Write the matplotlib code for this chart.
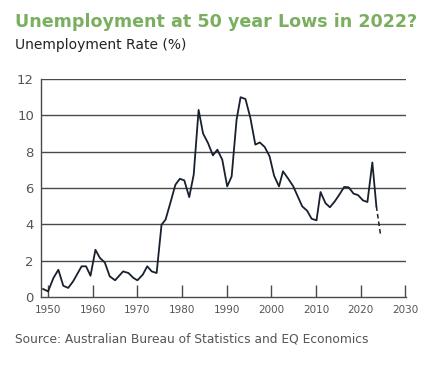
import matplotlib.pyplot as plt

# annual unemployment rate (%)
years = [1948.9, 1950.0, 1951.2, 1952.3, 1953.4, 1954.5, 1955.6, 1957.5, 1958.5, 1959.5,
         1960.6, 1961.6, 1962.7, 1963.8, 1965.0, 1966.8, 1968.0, 1969.1, 1970.0, 1971.2,
         1972.2, 1973.2, 1974.3, 1975.4, 1976.3, 1977.4, 1978.5, 1979.5, 1980.5, 1981.6,
         1982.6, 1983.7, 1984.7, 1985.8, 1986.9, 1987.9, 1989.0, 1990.1, 1991.1, 1992.2,
         1993.1, 1994.2, 1995.3, 1996.4, 1997.4, 1998.5, 1999.6, 2000.6, 2001.7, 2002.6,
         2003.8, 2004.9, 2005.9, 2006.9, 2008.0, 2009.0, 2010.1, 2011.0, 2012.1, 2013.1,
         2014.2, 2015.3, 2016.3, 2017.3, 2018.4, 2019.4, 2020.5, 2021.5, 2022.6, 2023.5]
rate = [0.44, 0.31, 1.05, 1.5, 0.62, 0.5, 0.86, 1.69, 1.69, 1.17,
        2.6, 2.15, 1.9, 1.14, 0.92, 1.41, 1.32, 1.05, 0.92, 1.23,
        1.69, 1.41, 1.32, 3.98, 4.26, 5.2, 6.18, 6.51, 6.42, 5.5,
        6.73, 10.3, 9.0, 8.48, 7.8, 8.11, 7.56, 6.09, 6.64, 9.76,
        11.0, 10.9, 9.85, 8.39, 8.51, 8.26, 7.74, 6.68, 6.09, 6.92,
        6.5, 6.09, 5.54, 4.99, 4.75, 4.31, 4.22, 5.78, 5.17, 4.94,
        5.27, 5.67, 6.06, 6.04, 5.69, 5.61, 5.32, 5.23, 7.41, 4.99]
fc_years = [2023.5, 2024.4]
fc_rate = [4.99, 3.49]

xticks = list(range(1950, 2031, 10))
yticks = list(range(0, 13, 2))

plt.rcParams['font.family'] = ['DejaVu Sans']

fig = plt.figure(figsize=(4.45, 3.66), dpi=100)
ax = fig.add_axes([0.092, 0.1885, 0.82, 0.5955])

grid_col = '#4a4a4a'
for v in yticks[1:]:
    ax.axhline(v, color=grid_col, lw=1.0, zorder=1)

ax.plot(years, rate, color='#18202e', lw=1.3, zorder=3)
ax.plot(fc_years, fc_rate, color='#18202e', lw=1.1, ls=(0, (3, 2)), zorder=3)

ax.set_xlim(1948.4, 2030.1)
ax.set_ylim(0, 12)
ax.set_xticks(xticks)
ax.set_yticks(yticks)

for s in ['top', 'right']:
    ax.spines[s].set_visible(False)
for s in ['left', 'bottom']:
    ax.spines[s].set_color(grid_col)
    ax.spines[s].set_linewidth(1.0)

ax.tick_params(axis='x', direction='in', length=9, width=1.0, color=grid_col,
               labelsize=7.5, labelcolor='#555555', pad=6)
ax.tick_params(axis='y', length=0, labelsize=9.5, labelcolor='#555555', pad=5)

fig.text(0.034, 0.94, 'Unemployment at 50 year Lows in 2022?', color='#7aaf60',
         fontsize=12.6, fontweight='bold', va='center')
fig.text(0.034, 0.877, 'Unemployment Rate (%)', color='#222222', fontsize=10, va='center')
fig.text(0.034, 0.074, 'Source: Australian Bureau of Statistics and EQ Economics',
         color='#555555', fontsize=8.8, va='center')

fig.savefig('out.png', dpi=100, facecolor='white')
